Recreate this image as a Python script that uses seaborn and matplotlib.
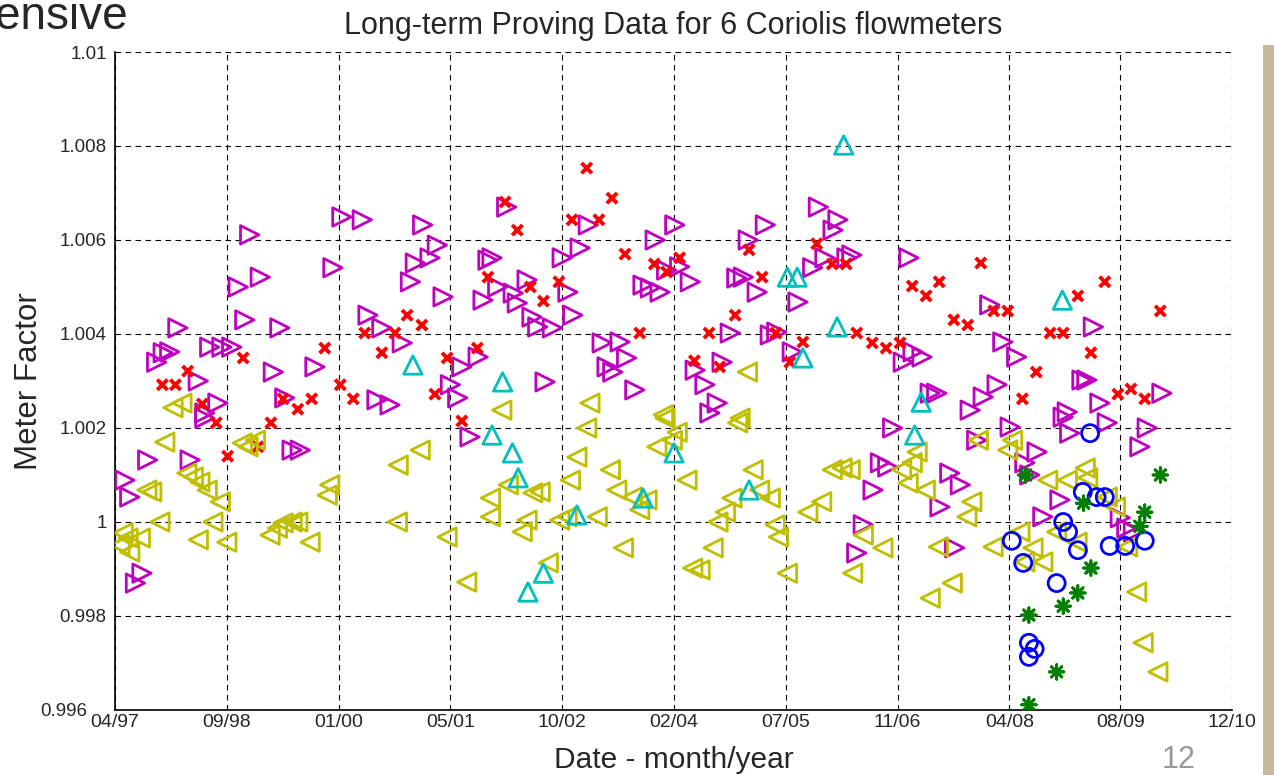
import matplotlib
matplotlib.use("Agg")
import matplotlib.pyplot as plt
from matplotlib.patches import Rectangle
from matplotlib.transforms import ScaledTranslation
import seaborn as sns
import pandas as pd

# x values are decimal years, y values are meter factors
mag_x = [1997.42, 1997.48, 1997.70, 1998.22, 1997.55, 1997.63, 1998.40, 1998.07, 1997.97, 1997.89,
         1997.81, 1998.32, 1998.46, 1998.61, 1998.73, 1998.56, 1998.40, 1998.95, 1998.81, 1999.08,
         1998.89, 1999.32, 1999.24, 1999.75, 1999.38, 2000.08, 2000.33, 1999.97, 2000.40, 2000.57,
         2000.82, 2000.51, 2000.67, 2001.07, 2001.25, 2001.16, 2000.98, 2000.92, 2001.32, 2001.55,
         2001.75, 2001.41, 2001.50, 2001.87, 2001.81, 1999.47, 1999.57, 2001.65, 2002.10, 2001.92,
         2001.99, 2002.35, 2002.18, 2002.23, 2002.41, 2002.48, 2002.66, 2002.78, 2003.00, 2003.10,
         2002.85, 2002.91, 2003.27, 2003.49, 2003.57, 2003.33, 2003.40, 2002.57, 2003.67, 2003.92,
         2004.16, 2003.77, 2003.86, 2003.98, 2004.06, 2004.22, 2004.35, 2004.92, 2005.00, 2005.17,
         2005.06, 2005.27, 2004.84, 2005.33, 2005.41, 2005.60, 2004.41, 2004.53, 2004.74, 2004.68,
         2004.59, 2005.67, 2005.92, 2006.16, 2006.10, 2005.85, 2006.00, 2006.27, 2006.33, 2007.03,
         2008.02, 2008.18, 2008.35, 2006.96, 2007.08, 2007.19, 2007.29, 2007.37, 2008.11, 2007.94,
         2007.78, 2009.29, 2008.97, 2009.15, 2009.21, 2009.37, 2010.13, 2006.83, 2007.86, 2008.27,
         2008.60, 2008.45, 2008.51, 2009.00, 2009.46, 2009.95, 2009.86, 2006.68, 2006.77, 2006.59,
         2007.53, 2007.66, 2007.41, 2008.88, 2008.67, 2006.47, 2006.39, 2007.59, 2009.62, 2009.70,
         2009.78, 2008.92]
mag_y = [1.00089, 1.00053, 1.00132, 1.00132, 0.99870, 0.99891, 1.00221, 1.00413, 1.00362, 1.00360,
         1.00340, 1.00300, 1.00372, 1.00372, 1.00372, 1.00253, 1.00232, 1.00611, 1.00500, 1.00521,
         1.00430, 1.00413, 1.00319, 1.00330, 1.00264, 1.00649, 1.00643, 1.00541, 1.00440, 1.00413,
         1.00381, 1.00260, 1.00249, 1.00632, 1.00589, 1.00562, 1.00551, 1.00511, 1.00479, 1.00330,
         1.00351, 1.00292, 1.00264, 1.00557, 1.00472, 1.00153, 1.00153, 1.00181, 1.00670, 1.00562,
         1.00500, 1.00515, 1.00487, 1.00466, 1.00436, 1.00415, 1.00413, 1.00562, 1.00583, 1.00632,
         1.00489, 1.00440, 1.00381, 1.00383, 1.00349, 1.00330, 1.00319, 1.00298, 1.00281, 1.00600,
         1.00632, 1.00504, 1.00498, 1.00489, 1.00536, 1.00543, 1.00511, 1.00519, 1.00521, 1.00489,
         1.00600, 1.00632, 1.00402, 1.00398, 1.00404, 1.00362, 1.00323, 1.00292, 1.00340, 1.00253,
         1.00232, 1.00468, 1.00670, 1.00643, 1.00621, 1.00541, 1.00562, 1.00562, 1.00568, 1.00562,
         1.00462, 1.00383, 1.00351, 1.00340, 1.00362, 1.00351, 1.00274, 1.00274, 1.00292, 1.00266,
         1.00238, 1.00415, 1.00234, 1.00302, 1.00302, 1.00253, 1.00274, 1.00200, 1.00174, 1.00202,
         1.00149, 1.00126, 1.00100, 1.00189, 1.00211, 1.00200, 1.00160, 1.00126, 1.00117, 1.00068,
         1.00104, 1.00079, 1.00032, 1.00047, 1.00011, 0.99994, 0.99934, 0.99945, 1.00009, 0.99987,
         0.99979, 1.00223]

red_x = [1998.19, 1997.88, 1998.04, 1998.37, 1998.87, 1999.87, 2000.06, 2000.22, 1999.71, 1999.54,
         1999.36, 2000.36, 2000.57, 2000.73, 2000.88, 2001.06, 2001.37, 2001.22, 2001.74, 2001.87,
         2001.55, 1998.54, 1999.21, 1998.68, 1999.05, 2003.08, 2003.39, 2002.90, 2003.23, 2002.08,
         2002.23, 2003.55, 2003.91, 2004.22, 2004.06, 2002.39, 2002.74, 2002.55, 2003.73, 2004.58,
         2004.90, 2005.07, 2005.23, 2005.90, 2006.09, 2006.26, 2006.39, 2005.73, 2005.40, 2004.40,
         2004.71, 2005.57, 2007.91, 2007.07, 2007.40, 2007.24, 2007.58, 2007.75, 2008.07, 2008.24,
         2006.58, 2006.75, 2006.92, 2008.76, 2008.92, 2009.10, 2009.43, 2010.11, 2009.26, 2008.59,
         2008.42, 2009.59, 2009.75, 2009.92]
red_y = [1.00321, 1.00292, 1.00292, 1.00251, 1.00349, 1.00370, 1.00292, 1.00262, 1.00262, 1.00240,
         1.00262, 1.00402, 1.00360, 1.00402, 1.00440, 1.00419, 1.00349, 1.00272, 1.00370, 1.00521,
         1.00215, 1.00211, 1.00211, 1.00140, 1.00160, 1.00753, 1.00689, 1.00643, 1.00643, 1.00681,
         1.00621, 1.00570, 1.00549, 1.00562, 1.00532, 1.00500, 1.00511, 1.00470, 1.00402, 1.00402,
         1.00440, 1.00579, 1.00521, 1.00592, 1.00549, 1.00549, 1.00402, 1.00383, 1.00402, 1.00343,
         1.00330, 1.00340, 1.00551, 1.00502, 1.00511, 1.00481, 1.00430, 1.00419, 1.00449, 1.00449,
         1.00381, 1.00370, 1.00381, 1.00402, 1.00402, 1.00481, 1.00511, 1.00449, 1.00360, 1.00319,
         1.00262, 1.00272, 1.00283, 1.00262]

yel_x = [1997.91, 1997.69, 1997.75, 1998.18, 1998.26, 1998.34, 1998.43, 1998.59, 1997.85, 1998.50,
         1997.40, 1997.46, 1997.61, 1997.36, 1997.48, 1998.32, 1998.67, 1998.86, 1998.93, 1999.02,
         1999.20, 1999.29, 1999.36, 1999.47, 1999.54, 1999.69, 1999.90, 1999.93, 2000.77, 2001.04,
         2000.76, 2001.37, 2001.61, 2001.90, 2001.90, 2002.04, 2003.08, 2002.96, 2002.88, 2003.37,
         2003.45, 2003.64, 2003.73, 2003.82, 2003.21, 2002.75, 2002.84, 2002.35, 2002.29, 2002.51,
         2002.42, 2002.12, 2003.53, 2002.61, 2004.04, 2004.19, 2003.94, 2004.13, 2004.31, 2004.93,
         2005.12, 2005.20, 2005.33, 2004.86, 2004.78, 2004.69, 2004.63, 2004.38, 2004.47, 2005.39,
         2005.43, 2005.54, 2005.79, 2005.96, 2006.09, 2006.21, 2006.31, 2006.34, 2003.12, 2004.02,
         2005.05, 2004.96, 2006.47, 2006.71, 2007.39, 2007.56, 2007.29, 2007.13, 2007.07, 2006.94,
         2007.02, 2007.23, 2007.80, 2007.74, 2007.88, 2008.24, 2008.30, 2008.73, 2008.97, 2009.19,
         2009.22, 2009.46, 2009.56, 2008.39, 2008.55, 2008.67, 2008.45, 2008.84, 2009.09, 2008.06,
         2009.71, 2009.82, 2009.90, 2010.08, 1998.01, 1998.12]
yel_y = [1.00170, 1.00068, 1.00064, 1.00104, 1.00096, 1.00085, 1.00068, 1.00043, 1.00000, 1.00000,
         0.99977, 0.99966, 0.99966, 0.99951, 0.99936, 0.99962, 0.99957, 1.00168, 1.00160, 1.00174,
         0.99972, 0.99987, 0.99998, 1.00000, 1.00000, 0.99957, 1.00057, 1.00079, 1.00121, 1.00153,
         1.00000, 0.99968, 0.99872, 1.00051, 1.00011, 1.00238, 1.00200, 1.00138, 1.00089, 1.00111,
         1.00068, 1.00053, 1.00026, 1.00047, 1.00011, 1.00004, 1.00011, 1.00004, 0.99979, 1.00064,
         1.00062, 1.00079, 0.99945, 0.99913, 1.00221, 1.00191, 1.00160, 1.00174, 1.00089, 1.00211,
         1.00111, 1.00068, 1.00051, 1.00051, 1.00021, 1.00000, 0.99945, 0.99902, 0.99898, 0.99994,
         0.99968, 0.99891, 1.00021, 1.00043, 1.00111, 1.00115, 1.00111, 0.99891, 1.00253, 1.00228,
         1.00319, 1.00221, 0.99972, 0.99945, 0.99947, 0.99870, 0.99838, 1.00149, 1.00126, 1.00111,
         1.00083, 1.00068, 1.00043, 1.00011, 1.00174, 1.00153, 1.00174, 1.00089, 1.00089, 1.00115,
         1.00094, 1.00053, 1.00032, 0.99979, 0.99945, 0.99915, 0.99915, 0.99979, 0.99957, 0.99947,
         0.99947, 0.99851, 0.99743, 0.99681, 1.00243, 1.00253]

cyan_x = [2000.95, 2002.05, 2001.92, 2002.17, 2002.24, 2002.96, 2002.55, 2002.36, 2004.15, 2005.07,
          2003.77, 2005.54, 2005.66, 2006.15, 2005.73, 2006.23, 2008.91, 2007.18, 2007.10]
cyan_y = [1.00334, 1.00298, 1.00185, 1.00147, 1.00094, 1.00015, 0.99891, 0.99851, 1.00147, 1.00068,
          1.00051, 1.00521, 1.00521, 1.00415, 1.00349, 1.00802, 1.00472, 1.00255, 1.00185]

blue_x = [2009.25, 2009.16, 2009.33, 2009.43, 2008.29, 2008.43, 2008.92, 2008.98, 2009.10, 2008.84,
          2009.49, 2009.68, 2009.92, 2008.50, 2008.57, 2008.50]
blue_y = [1.00189, 1.00064, 1.00053, 1.00053, 0.99960, 0.99913, 1.00000, 0.99979, 0.99940, 0.99870,
          0.99949, 0.99949, 0.99960, 0.99743, 0.99730, 0.99713]

green_x = [2008.46, 2009.17, 2009.26, 2009.10, 2008.92, 2008.50, 2008.84, 2008.50, 2010.11, 2009.92,
           2009.86]
green_y = [1.00100, 1.00040, 0.99902, 0.99849, 0.99821, 0.99802, 0.99681, 0.99611, 1.00100, 1.00021,
           0.99991]

tick_pos = [1997.30, 1998.67, 2000.04, 2001.41, 2002.78, 2004.15, 2005.52, 2006.89, 2008.26,
            2009.62, 2010.99]
tick_labels = ["04/97", "09/98", "01/00", "05/01", "10/02", "02/04", "07/05", "11/06", "04/08",
               "08/09", "12/10"]
ytick_pos = [0.996, 0.998, 1.0, 1.002, 1.004, 1.006, 1.008, 1.01]
ytick_labels = ["0.996", "0.998", "1", "1.002", "1.004", "1.006", "1.008", "1.01"]

sns.set_style("white")
plt.rcParams['font.family'] = ['Liberation Sans', 'DejaVu Sans']

fig = plt.figure(figsize=(12.74, 7.75), dpi=100)
ax = fig.add_axes([0.0903, 0.0839, 0.8768, 0.849])

series = [
    (mag_x, mag_y, '>', '#bf00bf', 175, 2.0),
    (red_x, red_y, 'x', '#ff0000', 55, 2.8),
    (yel_x, yel_y, '<', '#bfbf00', 175, 2.0),
    (cyan_x, cyan_y, '^', '#00bfbf', 175, 2.0),
    (blue_x, blue_y, 'o', '#0000ff', 150, 2.0),
    (green_x, green_y, (8, 2, 0), '#008000', 110, 2.0),
]
for i, (xs, ys, mk, col, sz, lw) in enumerate(series):
    df = pd.DataFrame({'date': xs, 'mf': ys})
    sns.scatterplot(data=df, x='date', y='mf', marker=mk, s=sz, ax=ax, legend=False, zorder=3 + i)
    coll = ax.collections[-1]
    coll.set_facecolor('none')
    coll.set_edgecolor(col)
    coll.set_linewidth(lw)

ax.set_xlim(tick_pos[0], tick_pos[-1])
ax.set_ylim(0.996, 1.01)
ax.set_xticks(tick_pos)
ax.set_xticklabels(tick_labels, fontsize=14)
ax.set_yticks(ytick_pos)
ax.set_yticklabels(ytick_labels, fontsize=13.5)
ax.tick_params(direction='in', length=5, width=1, color='k', pad=3)
ax.tick_params(axis='y', pad=6)
# bottom y label sits a bit further left, as in the original
lab0 = ax.get_yticklabels()[0]
lab0.set_transform(lab0.get_transform() + ScaledTranslation(-0.19, 0, fig.dpi_scale_trans))

ax.grid(True, color='k', linestyle=(0, (5, 4)), linewidth=0.8)
ax.set_axisbelow(True)
for side in ['top', 'right']:
    ax.spines[side].set_visible(False)
for side in ['left', 'bottom']:
    ax.spines[side].set_color('k')
    ax.spines[side].set_linewidth(1.2)

ax.set_title("Long-term Proving Data for 6 Coriolis flowmeters", fontsize=22, pad=13)
ax.set_xlabel("Date - month/year", fontsize=21.5, labelpad=11)
ax.set_ylabel("Meter Factor", fontsize=22.5)
ax.yaxis.set_label_coords(-0.064, 0.5)

# slide decoration around the chart
fig.text(128 / 1274, 1 - 29 / 775, "ensive", fontsize=33, ha='right', va='baseline')
fig.text(1195 / 1274, 1 - 768 / 775, "12", fontsize=22, ha='right', va='baseline', color='#999999')
fig.patches.append(Rectangle((1263 / 1274, 0), 11 / 1274, 1 - 45 / 775, transform=fig.transFigure,
                             facecolor='#c9b79c', edgecolor='none'))

fig.savefig("out.png", dpi=100)
